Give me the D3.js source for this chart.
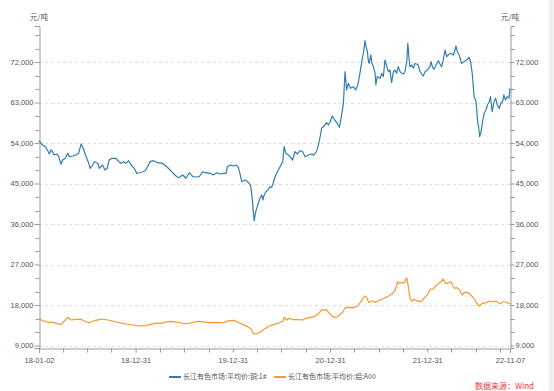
<!DOCTYPE html>
<html><head><meta charset="utf-8">
<script src="https://cdn.jsdelivr.net/npm/d3@7"></script>
<style>
html,body{margin:0;padding:0;background:#fff;}
svg{display:block;}
text{font-family:"Liberation Sans","Noto Sans CJK SC",sans-serif;}
</style></head>
<body>
<svg id="chart" width="554" height="391"></svg>
<script>
// ---------------- data ----------------
const seriesNames = ["长江有色市场:平均价:铜:1#", "长江有色市场:平均价:铝:A00"];
const unitLabel = "元/吨";
const sourceLabel = "数据来源：Wind";
const xTickDates = ["2018-01-02","2018-12-31","2019-12-31","2020-12-31","2021-12-31","2022-11-07"];
const xTickLabels = ["18-01-02","18-12-31","19-12-31","20-12-31","21-12-31","22-11-07"];
const yTickValues = [9000,18000,27000,36000,45000,54000,63000,72000];

const copperDates = ["2018-01-02","2018-01-16","2018-01-26","2018-02-04","2018-02-10","2018-02-16","2018-02-22","2018-02-28","2018-03-10","2018-03-17","2018-03-26","2018-04-01","2018-04-11","2018-04-20","2018-04-26","2018-05-09","2018-05-21","2018-05-31","2018-06-09","2018-06-17","2018-06-28","2018-07-08","2018-07-13","2018-07-23","2018-07-29","2018-08-11","2018-08-17","2018-08-29","2018-09-07","2018-09-15","2018-09-23","2018-10-03","2018-10-18","2018-10-29","2018-11-06","2018-11-15","2018-11-25","2018-12-05","2018-12-14","2018-12-26","2019-01-04","2019-01-14","2019-01-27","2019-02-05","2019-02-14","2019-02-23","2019-03-08","2019-03-24","2019-04-12","2019-04-24","2019-05-07","2019-05-19","2019-06-01","2019-06-11","2019-06-26","2019-07-08","2019-07-21","2019-08-03","2019-08-15","2019-08-27","2019-09-09","2019-09-19","2019-10-07","2019-10-19","2019-11-01","2019-11-13","2019-11-26","2019-12-06","2019-12-11","2019-12-21","2020-01-02","2020-01-15","2020-01-21","2020-01-27","2020-02-03","2020-02-09","2020-02-18","2020-02-24","2020-03-02","2020-03-08","2020-03-11","2020-03-15","2020-03-17","2020-03-21","2020-03-25","2020-03-30","2020-04-05","2020-04-11","2020-04-18","2020-04-22","2020-04-27","2020-05-04","2020-05-13","2020-05-19","2020-05-25","2020-05-31","2020-06-07","2020-06-13","2020-06-26","2020-07-06","2020-07-11","2020-07-18","2020-07-27","2020-08-02","2020-08-12","2020-08-21","2020-08-30","2020-09-09","2020-09-19","2020-09-28","2020-10-10","2020-10-23","2020-10-31","2020-11-11","2020-11-18","2020-11-26","2020-11-29","2020-12-08","2020-12-18","2020-12-24","2020-12-31","2021-01-08","2021-01-16","2021-01-25","2021-02-04","2021-02-13","2021-02-19","2021-02-25","2021-03-03","2021-03-09","2021-03-18","2021-03-28","2021-04-06","2021-04-14","2021-04-20","2021-04-29","2021-05-07","2021-05-11","2021-05-15","2021-05-20","2021-05-24","2021-05-27","2021-06-02","2021-06-06","2021-06-11","2021-06-18","2021-06-21","2021-06-26","2021-07-07","2021-07-13","2021-07-19","2021-07-25","2021-08-01","2021-08-07","2021-08-13","2021-08-19","2021-08-26","2021-09-01","2021-09-07","2021-09-13","2021-09-20","2021-09-26","2021-10-02","2021-10-08","2021-10-15","2021-10-19","2021-10-23","2021-10-27","2021-11-03","2021-11-09","2021-11-15","2021-11-27","2021-12-04","2021-12-16","2021-12-23","2021-12-31","2022-01-10","2022-01-14","2022-01-19","2022-01-25","2022-02-02","2022-02-11","2022-02-17","2022-02-23","2022-03-01","2022-03-08","2022-03-14","2022-03-20","2022-03-29","2022-04-08","2022-04-14","2022-04-18","2022-04-23","2022-04-30","2022-05-09","2022-05-18","2022-05-28","2022-06-06","2022-06-12","2022-06-18","2022-06-25","2022-07-01","2022-07-05","2022-07-09","2022-07-12","2022-07-16","2022-07-21","2022-07-27","2022-08-02","2022-08-09","2022-08-14","2022-08-21","2022-08-26","2022-09-01","2022-09-08","2022-09-14","2022-09-20","2022-09-28","2022-10-03","2022-10-10","2022-10-15","2022-10-21","2022-10-27","2022-11-03","2022-11-07"];
const copperValues = [54450,53560,53180,52290,51560,52450,52070,51330,51560,50960,49270,50220,50600,51710,50960,51110,51330,51710,53780,52820,50960,49490,48380,49110,49850,49490,48380,49110,48000,48380,50220,50600,50600,49850,49490,49850,49490,50070,49110,48380,47270,47400,47620,47850,48740,49850,50070,49620,49490,48890,48160,47400,46670,46290,46890,46160,47400,46510,46450,46510,47620,47400,47270,46890,47400,47110,47270,47270,48740,49110,48890,49110,48600,47270,45400,45620,45780,45400,45050,44290,42820,40600,38740,36740,38380,39490,40600,41710,42450,41340,42450,43180,43710,44290,44110,45050,46510,47270,48740,49850,53180,51710,51330,50960,50220,52070,51560,52290,52070,50960,51330,51560,51270,52290,53780,56160,57270,57780,58510,58000,58740,60000,59270,58510,57490,60600,62820,69840,65780,67270,66160,66510,65780,66890,68730,72070,74670,76730,75400,74290,72070,71710,73560,71710,71110,69490,66890,68730,68380,69490,68730,72440,70960,69840,70220,67400,69840,70220,69490,70960,69840,69490,69330,69840,72070,76160,73180,70960,71330,70600,71710,71330,69840,68890,69840,70220,70960,72070,70960,70380,71330,72290,71560,70960,72440,74670,73180,73560,73930,73560,74670,75560,74290,73560,71710,72070,72440,73040,72070,69490,64290,63560,61330,58380,57620,55400,56510,58730,60600,61330,62450,63180,64290,60960,63180,63930,62450,61710,62820,63180,64670,63560,64290,64000,66160];

const aluDates = ["2018-01-02","2018-01-16","2018-02-04","2018-02-22","2018-03-13","2018-03-26","2018-04-07","2018-04-20","2018-05-02","2018-05-21","2018-06-09","2018-06-21","2018-07-10","2018-07-29","2018-08-17","2018-08-29","2018-09-17","2018-10-06","2018-10-31","2018-11-25","2018-12-20","2019-01-14","2019-02-08","2019-02-27","2019-03-18","2019-04-05","2019-04-24","2019-05-13","2019-06-01","2019-06-20","2019-07-02","2019-07-21","2019-08-09","2019-08-27","2019-09-15","2019-10-04","2019-10-23","2019-11-11","2019-11-29","2019-12-18","2020-01-06","2020-01-19","2020-02-06","2020-02-25","2020-03-09","2020-03-17","2020-03-25","2020-04-09","2020-04-28","2020-05-16","2020-06-04","2020-06-23","2020-07-06","2020-07-12","2020-07-21","2020-07-31","2020-08-12","2020-08-31","2020-09-19","2020-10-01","2020-10-14","2020-11-02","2020-11-18","2020-12-01","2020-12-09","2020-12-18","2020-12-28","2021-01-10","2021-01-22","2021-02-04","2021-02-16","2021-02-26","2021-03-13","2021-04-01","2021-04-14","2021-04-26","2021-05-09","2021-05-17","2021-05-25","2021-06-09","2021-06-21","2021-07-04","2021-07-23","2021-08-10","2021-08-23","2021-09-02","2021-09-11","2021-09-17","2021-09-23","2021-10-06","2021-10-15","2021-10-22","2021-10-27","2021-11-04","2021-11-12","2021-11-21","2021-12-04","2021-12-14","2021-12-24","2022-01-02","2022-01-12","2022-01-23","2022-02-02","2022-02-11","2022-02-21","2022-03-01","2022-03-09","2022-03-18","2022-03-30","2022-04-12","2022-04-21","2022-05-01","2022-05-11","2022-05-19","2022-06-01","2022-06-13","2022-06-26","2022-07-05","2022-07-15","2022-07-27","2022-08-09","2022-08-21","2022-09-03","2022-09-15","2022-09-30","2022-10-10","2022-10-23","2022-11-07"];
const aluValues = [15050,14520,14160,14160,13850,13700,14450,15270,14670,14820,14820,14450,14070,14520,14740,14890,14670,14450,14070,13780,13560,13340,13410,13700,14000,13930,14220,14380,14220,14000,13850,13930,14220,14380,14220,14070,14150,14070,14150,14520,14590,14160,13700,13190,12670,11710,11560,11850,12670,13340,13700,14070,14450,15270,14670,15050,14740,14740,14670,15050,15200,15410,16160,17050,16760,16960,16160,15410,15200,15780,16380,17410,17490,17410,17850,18740,20000,19780,18600,18890,18600,19040,19490,20070,20600,21340,23180,22820,22960,22960,24070,21710,19490,18890,19270,18960,18740,19110,19850,20380,21560,21560,22290,22820,23180,23780,22820,22820,23180,21710,21860,21340,20220,20820,20820,20220,19330,18380,17780,18380,18520,18890,18670,18890,18300,18670,18670,18220];

const colors = ["#2e7fad", "#f7972f"];

// ---------------- drawing ----------------
const parse = d3.timeParse("%Y-%m-%d");
const svg = d3.select("#chart");
const L = 39, R = 510, T = 26, B = 348;

svg.append("rect").attr("x",549).attr("y",0).attr("width",5).attr("height",391).attr("fill","#efefef");

const x = d3.scaleTime().domain([parse("2018-01-02"), parse("2022-11-07")]).range([L, R]);
const y = d3.scaleLinear().domain([8450, 80000]).range([B, T]);

const axisColor = "#9a9a9a", textColor = "#555";

// gridlines
svg.append("g").selectAll("line").data(yTickValues).join("line")
  .attr("x1", L).attr("x2", R)
  .attr("y1", d => Math.round(y(d)) + 0.5).attr("y2", d => Math.round(y(d)) + 0.5)
  .attr("stroke", "#dedede").attr("stroke-dasharray", "3,3").attr("stroke-width", 1);

// y axes (major labels via d3 axes, minor ticks every 3000)
const minorY = d3.range(12000, 80000, 3000).filter(v => v % 9000 !== 0);
const fmt = d3.format(",");
function styleAxis(g){
  g.select(".domain").attr("stroke", axisColor);
  g.selectAll(".tick line").attr("stroke", axisColor);
  g.selectAll(".tick text").attr("fill", textColor).style("font-size","7.5px")
   .style("font-family",'"Liberation Sans",sans-serif');
}
const yLeft = svg.append("g").attr("transform", `translate(${L+0.5},0)`)
  .call(d3.axisLeft(y).tickValues(yTickValues).tickFormat(fmt).tickSizeOuter(0).tickSize(5).tickPadding(1));
styleAxis(yLeft);
const yRight = svg.append("g").attr("transform", `translate(${R+0.5},0)`)
  .call(d3.axisRight(y).tickValues(yTickValues).tickFormat(fmt).tickSizeOuter(0).tickSize(4).tickPadding(1));
styleAxis(yRight);
[L, R].forEach((px, i) => {
  svg.append("g").selectAll("line").data(minorY).join("line")
    .attr("x1", px + 0.5).attr("x2", px + 0.5 + (i === 0 ? -4 : 4))
    .attr("y1", d => Math.round(y(d)) + 0.5).attr("y2", d => Math.round(y(d)) + 0.5)
    .attr("stroke", axisColor);
});

// x axis
const minorX = [];
[2018,2019,2020,2021,2022].forEach(yr => ["04-01","07-01","10-01"].forEach(md => minorX.push(parse(yr + "-" + md))));
const xAxisG = svg.append("g").attr("transform", `translate(0,${B+0.5})`)
  .call(d3.axisBottom(x).tickValues(xTickDates.map(parse))
    .tickFormat((d, i) => xTickLabels[i]).tickSizeOuter(0).tickSize(4).tickPadding(5));
styleAxis(xAxisG);
svg.append("g").selectAll("line").data(minorX).join("line")
  .attr("x1", d => Math.round(x(d)) + 0.5).attr("x2", d => Math.round(x(d)) + 0.5)
  .attr("y1", B + 0.5).attr("y2", B + 4.5).attr("stroke", axisColor);

// unit labels
[L, R].forEach(px => svg.append("text").attr("x", px).attr("y", 20).attr("text-anchor","middle")
  .attr("fill", textColor).style("font-size","7.5px").style("font-family",'"Noto Sans CJK SC",sans-serif').text(unitLabel));

// lines
const line = d3.line().x(d => x(d[0])).y(d => y(d[1]));
const copper = copperDates.map((d, i) => [parse(d), copperValues[i]]);
const alu = aluDates.map((d, i) => [parse(d), aluValues[i]]);
[copper, alu].forEach((data, i) => {
  svg.append("path").datum(data).attr("d", line).attr("fill", "none")
    .attr("stroke", colors[i]).attr("stroke-width", 1.2).attr("stroke-linejoin", "round");
});

// legend
const legendX = [169, 274];
seriesNames.forEach((name, i) => {
  const g = svg.append("g").attr("transform", `translate(${legendX[i]},377)`);
  g.append("line").attr("x1", 0).attr("x2", 12).attr("y1", 0).attr("y2", 0)
    .attr("stroke", colors[i]).attr("stroke-width", 2);
  g.append("text").attr("x", 14).attr("y", 0).attr("dy", "0.35em").attr("fill", textColor)
    .style("font-size", "7px").style("font-family",'"Noto Sans CJK SC",sans-serif').text(name);
});

// source
svg.append("text").attr("x", 475).attr("y", 388.5).attr("fill", "#e2403a")
  .style("font-size", "8px").style("font-family",'"Noto Sans CJK SC",sans-serif').text(sourceLabel);
</script>
</body></html>
